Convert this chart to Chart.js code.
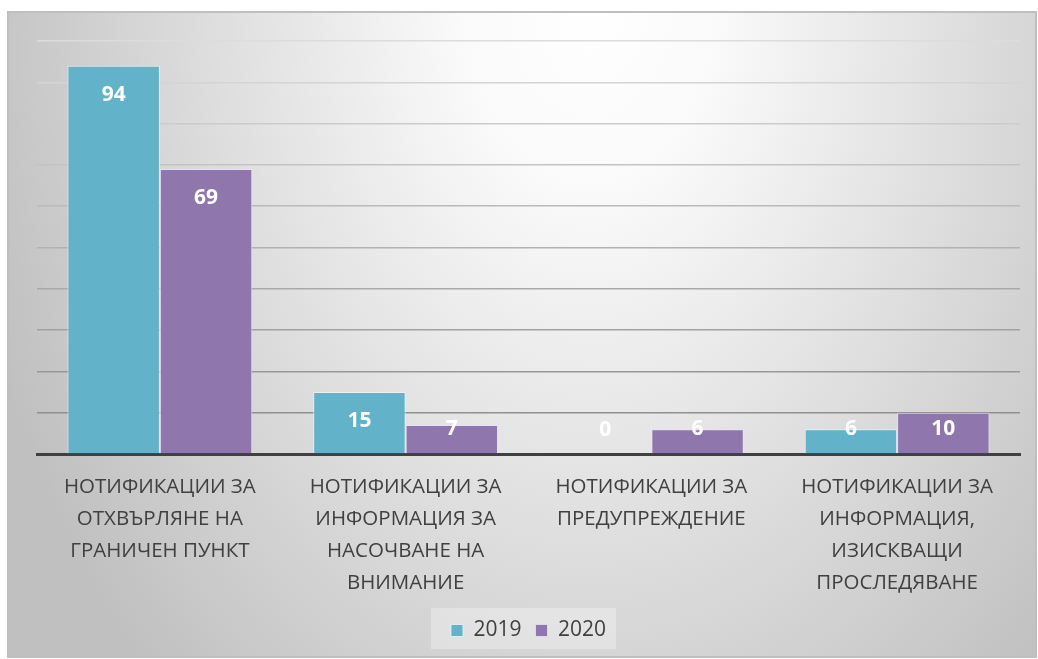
<!DOCTYPE html>
<html>
<head>
<meta charset="utf-8">
<script src="https://cdn.jsdelivr.net/npm/chart.js@4/dist/chart.umd.min.js"></script>
<style>
  html, body { margin: 0; padding: 0; background: #fff; }
  #wrap { width: 1038px; height: 659px; }
</style>
</head>
<body>
<div id="wrap"><canvas id="notifChart" width="1038" height="659"></canvas></div>
<script>
// categories (multi-line labels as in the original)
const categories = [
    ['НОТИФИКАЦИИ ЗА', 'ОТХВЪРЛЯНЕ НА', 'ГРАНИЧЕН ПУНКТ'],
    ['НОТИФИКАЦИИ ЗА', 'ИНФОРМАЦИЯ ЗА', 'НАСОЧВАНЕ НА', 'ВНИМАНИЕ'],
    ['НОТИФИКАЦИИ ЗА', 'ПРЕДУПРЕЖДЕНИЕ'],
    ['НОТИФИКАЦИИ ЗА', 'ИНФОРМАЦИЯ,', 'ИЗИСКВАЩИ', 'ПРОСЛЕДЯВАНЕ']
];
const values2019 = [94, 15, 0, 6];
const values2020 = [69, 7, 6, 10];
const yMax = 100;
const yStep = 10;

const FONT = 'Open Sans';

// background + frame + legend box
const backdrop = {
    id: 'backdrop',
    beforeDraw(chart) {
        const ctx = chart.ctx;
        ctx.save();
        ctx.fillStyle = '#fff';
        ctx.fillRect(0, 0, chart.width, chart.height);
        // elliptical light spot near the top middle
        ctx.save();
        const sy = 1.45;
        ctx.translate(590, 0);
        ctx.scale(1, sy);
        const g = ctx.createRadialGradient(0, 0, 0, 0, 0, 640);
        g.addColorStop(0, '#ffffff');
        g.addColorStop(0.2, '#fafafa');
        g.addColorStop(1, '#c0c0c0');
        ctx.fillStyle = g;
        ctx.fillRect(8 - 590, 12 / sy, 1028, 645 / sy);
        ctx.restore();
        ctx.strokeStyle = '#bfbfbf';
        ctx.lineWidth = 2;
        ctx.strokeRect(8, 12, 1028, 645);

        const lg = chart.legend;
        if (lg) {
            let minX = Infinity, maxX = -Infinity;
            lg.legendHitBoxes.forEach(b => { minX = Math.min(minX, b.left); maxX = Math.max(maxX, b.left + b.width); });
            ctx.fillStyle = 'rgba(255,255,255,0.3)';
            ctx.fillRect(minX - 20, lg.top + 2, maxX - minX + 30, lg.height - 4);
        }
        ctx.restore();
    }
};

// value labels inside the bar tops
const barValues = {
    id: 'barValues',
    afterDatasetsDraw(chart) {
        const ctx = chart.ctx;
        ctx.save();
        ctx.fillStyle = '#fff';
        ctx.font = 'bold 21px "' + FONT + '"';
        ctx.textAlign = 'center';
        ctx.textBaseline = 'middle';
        chart.data.datasets.forEach((ds, i) => {
            chart.getDatasetMeta(i).data.forEach((bar, j) => {
                const y = Math.min(bar.y + 29, bar.base - 24);
                ctx.fillText(String(ds.data[j]), bar.x, y);
            });
        });
        ctx.restore();
    }
};

new Chart(document.getElementById('notifChart'), {
    type: 'bar',
    data: {
        labels: categories,
        datasets: [
            { label: '2019', data: values2019, backgroundColor: '#62b3c9', borderColor: 'rgba(230,245,250,0.8)', borderWidth: 1, borderSkipped: 'bottom' },
            { label: '2020', data: values2020, backgroundColor: '#8f76ac', borderColor: 'rgba(235,225,245,0.8)', borderWidth: 1, borderSkipped: 'bottom' }
        ]
    },
    options: {
        responsive: false,
        animation: false,
        devicePixelRatio: 1,
        layout: { padding: { left: 37, right: 18, top: 41, bottom: 8 } },
        datasets: { bar: { categoryPercentage: 0.752, barPercentage: 1 } },
        plugins: {
            legend: {
                position: 'bottom',
                labels: {
                    color: '#404040',
                    font: { family: FONT, size: 21 },
                    boxWidth: 12, boxHeight: 12,
                    padding: 14
                }
            },
            tooltip: { enabled: false }
        },
        scales: {
            x: {
                grid: { display: false },
                border: { color: '#404040', width: 3 },
                ticks: {
                    color: '#404040',
                    font: { family: FONT, size: 20.5, lineHeight: 1.56 },
                    padding: 9,
                    maxRotation: 0, autoSkip: false
                },
                afterFit(scale) { scale.height = 152; }
            },
            y: {
                min: 0, max: yMax,
                ticks: { display: false, stepSize: yStep },
                border: { display: false },
                grid: {
                    drawTicks: false,
                    lineWidth: 1.5,
                    color(ctx) {
                        const t = 1 - ctx.tick.value / yMax;
                        const c = Math.round(220 - t * 85);
                        return `rgb(${c},${c},${c})`;
                    }
                },
                afterFit(scale) { scale.width = 0; }
            }
        }
    },
    plugins: [backdrop, barValues]
});
</script>
</body>
</html>
